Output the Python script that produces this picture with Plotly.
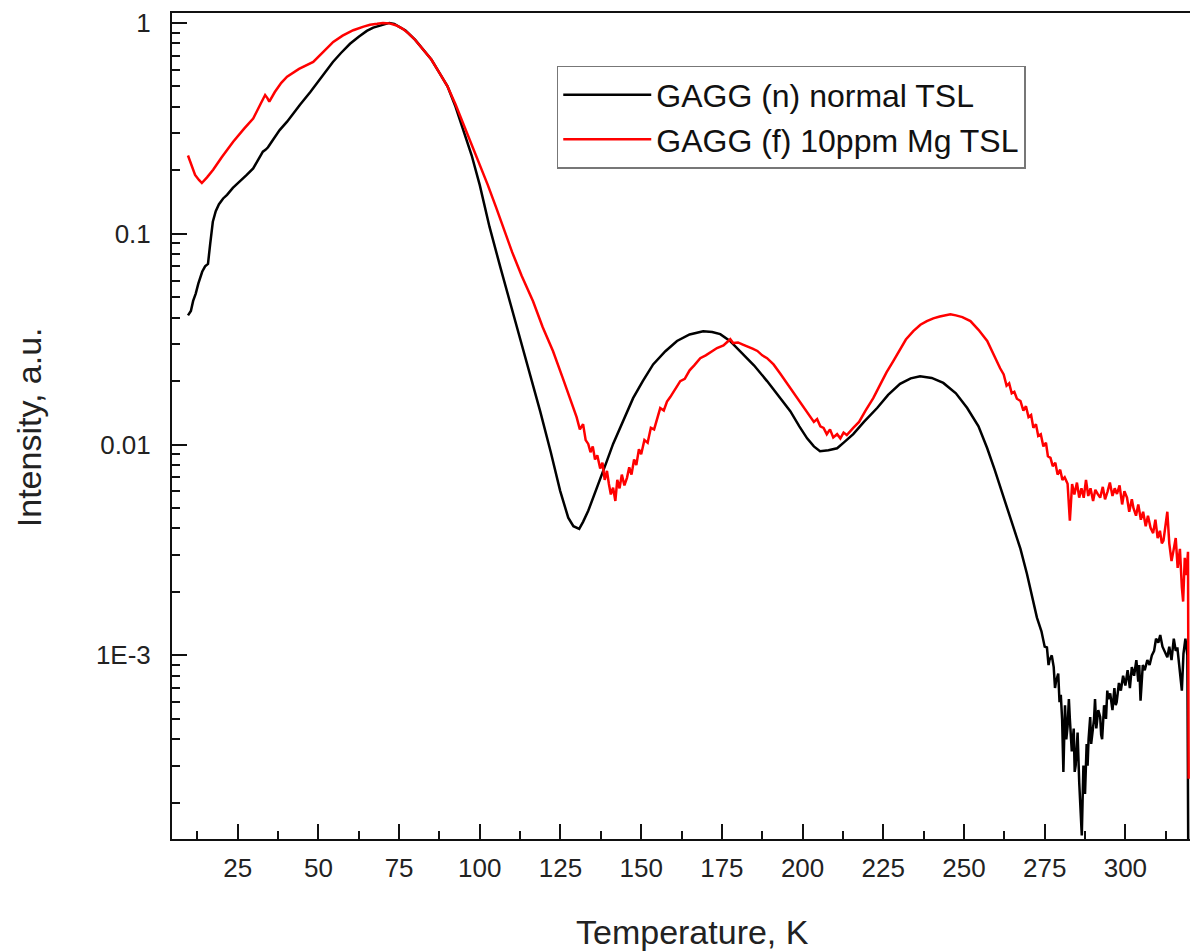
import plotly.graph_objects as go

# ---- data ----
black_T = [9.6, 10.5, 11.2, 12.0, 12.8, 13.3, 14.0, 14.9, 15.8, 16.5, 17.3, 18.2, 19.2, 20.5, 21.7,
           23.5, 25.7, 27.8, 29.8, 31.5, 32.8, 33.6, 34.4, 36.0, 38.0, 40.3, 42.3, 44.3, 47.5, 50.5,
           52.5, 54.5, 57.0, 59.8, 62.5, 65.0, 67.0, 69.0, 70.7, 72.0, 73.5, 75.0, 77.0, 80.0, 82.5,
           85.0, 87.5, 90.0, 92.5, 95.0, 97.5, 100.0, 103.0, 106.3, 109.0, 112.5, 115.5, 118.7, 122.0,
           124.9, 127.4, 129.0, 130.8, 132.0, 133.6, 135.5, 137.3, 139.3, 141.3, 144.5, 147.5, 150.5,
           153.7, 157.5, 161.1, 165.0, 169.2, 172.0, 174.5, 177.5, 180.7, 185.0, 189.0, 192.5, 196.2,
           199.0, 201.4, 203.5, 205.4, 208.0, 210.7, 213.0, 215.7, 219.0, 223.1, 226.5, 230.2, 233.5,
           236.4, 240.0, 243.6, 247.5, 251.0, 254.5, 257.2, 259.5, 261.2, 263.3, 265.3, 267.5, 269.5,
           271.0, 272.6, 274.0, 275.0, 275.7, 276.2, 276.5, 277.2, 277.8, 278.2, 278.5, 279.2, 279.6,
           280.0, 280.4, 280.8, 281.3, 281.7, 282.1, 282.5, 282.8, 283.4, 284.0, 284.3, 284.6, 285.2,
           285.7, 286.1, 286.5, 287.0, 287.5, 288.0, 288.3, 288.6, 289.1, 289.4, 289.7, 290.3, 290.6,
           291.0, 291.6, 292.2, 292.5, 292.8, 293.4, 294.0, 294.4, 294.7, 295.3, 296.0, 296.6, 297.0,
           297.3, 298.0, 298.6, 299.3, 300.0, 300.7, 301.4, 302.0, 302.7, 303.4, 304.0, 304.3, 304.7,
           305.4, 306.0, 306.8, 307.5, 308.2, 308.9, 309.5, 310.2, 310.8, 311.5, 312.2, 313.0, 313.6,
           314.3, 315.0, 315.6, 316.1, 316.8, 317.5, 318.0, 318.6, 319.2, 319.5]
black_I = [0.041, 0.043, 0.048, 0.052, 0.058, 0.061, 0.066, 0.070, 0.072, 0.09, 0.114, 0.128, 0.138, 0.147, 0.153,
           0.165, 0.177, 0.19, 0.204, 0.225, 0.245, 0.25, 0.257, 0.28, 0.31, 0.34, 0.375, 0.409, 0.47, 0.543,
           0.6, 0.653, 0.72, 0.796, 0.86, 0.916, 0.95, 0.968, 0.99, 1.0, 0.99, 0.96, 0.92, 0.83, 0.75,
           0.67, 0.58, 0.5, 0.4, 0.305, 0.235, 0.17, 0.108, 0.070, 0.0497, 0.032, 0.0217, 0.0144, 0.0092,
           0.00603, 0.0045, 0.0041, 0.00398, 0.0043, 0.00485, 0.0058, 0.00673, 0.0083, 0.01007, 0.013, 0.0166, 0.020,
           0.024, 0.0277, 0.031, 0.0333, 0.0345, 0.0342, 0.0334, 0.031, 0.0277, 0.0237, 0.020, 0.017, 0.0144,
           0.0122, 0.0107, 0.0098, 0.0093, 0.0094, 0.0096, 0.0103, 0.0112, 0.0128, 0.0149, 0.0172, 0.0194, 0.0206,
           0.0211, 0.0207, 0.0196, 0.0175, 0.0149, 0.0122, 0.0096, 0.0076, 0.0063, 0.0051, 0.00403, 0.0032, 0.00244,
           0.0019, 0.00151, 0.0013, 0.0011, 0.00109, 0.0009, 0.00095, 0.0010, 0.00088, 0.0007, 0.00075, 0.00082, 0.0006,
           0.00065, 0.0005, 0.00028, 0.00058, 0.0004, 0.00046, 0.00062, 0.0005, 0.00035, 0.00045, 0.00028, 0.0003, 0.00043,
           0.00025, 0.000185, 0.00014, 0.0003, 0.00022, 0.00038, 0.0003, 0.0004, 0.00051, 0.00038, 0.00042, 0.0005, 0.00062,
           0.00045, 0.00055, 0.00051, 0.00042, 0.0004, 0.00058, 0.0005, 0.00068, 0.00062, 0.00066, 0.00055, 0.0007, 0.00058,
           0.0006, 0.00074, 0.00068, 0.0008, 0.00072, 0.00085, 0.0007, 0.00088, 0.0008, 0.00095, 0.00075, 0.0009, 0.00061,
           0.0009, 0.00085, 0.00095, 0.0009, 0.001, 0.00105, 0.0012, 0.00115, 0.00125, 0.0011, 0.00105, 0.00098, 0.0011,
           0.00095, 0.0012, 0.00105, 0.00109, 0.00085, 0.00068, 0.00102, 0.0012, 0.001, 0.0001]

red_T = [9.6, 10.5, 11.8, 13.0, 13.9, 15.5, 17.4, 20.0, 23.6, 27.0, 29.8, 32.0, 33.5, 34.2, 34.8, 36.5,
         38.5, 40.3, 44.0, 48.4, 51.5, 54.6, 57.5, 60.8, 64.0, 66.0, 68.2, 70.0, 72.0, 74.0, 76.0, 78.0,
         80.0, 82.5, 85.0, 87.5, 90.0, 92.5, 95.0, 97.5, 100.0, 102.5, 105.0, 107.5, 110.0, 113.0, 116.5,
         119.5, 122.7, 125.8, 128.9, 130.0, 131.0, 132.0, 132.8, 133.6, 134.3, 135.0, 135.7, 136.4, 137.3,
         138.0, 138.7, 139.4, 140.0, 140.6, 141.3, 142.0, 142.6, 143.3, 144.0, 144.8, 145.6, 146.3, 147.0,
         147.8, 148.5, 149.3, 150.0, 151.0, 152.0, 153.0, 154.0, 155.0, 155.9, 157.0, 158.0, 159.0, 160.0,
         161.0, 162.1, 163.5, 165.0, 166.5, 168.3, 170.0, 171.5, 173.5, 175.5, 177.6, 178.5, 180.0, 181.5,
         182.9, 184.5, 186.0, 187.5, 189.0, 191.0, 193.0, 195.3, 197.5, 199.5, 201.4, 202.5, 203.5, 204.5,
         205.5, 206.5, 207.5, 208.5, 209.5, 210.7, 211.7, 212.7, 213.7, 215.7, 217.5, 219.5, 221.9, 224.0,
         226.0, 228.1, 230.0, 232.0, 234.3, 236.5, 238.5, 240.5, 242.5, 244.0, 245.8, 247.5, 249.5, 252.0,
         254.5, 257.2, 259.0, 261.2, 262.3, 263.2, 264.0, 264.8, 265.6, 266.4, 267.5, 268.4, 269.2, 270.0,
         270.8, 271.5, 272.3, 273.0, 273.8, 274.6, 275.4, 276.0, 276.8, 277.5, 278.3, 279.0, 279.8, 280.5,
         281.2, 282.1, 282.8, 283.5, 284.2, 285.0, 285.7, 286.4, 287.1, 287.8, 288.5, 289.2, 290.0, 290.7,
         291.5, 292.2, 293.0, 293.7, 294.5, 295.2, 296.0, 296.7, 297.4, 298.2, 299.0, 299.7, 300.5, 301.2,
         302.0, 302.5, 303.3, 304.0, 304.8, 305.5, 306.3, 307.0, 307.8, 308.6, 309.3, 310.0, 310.7, 311.3,
         311.8, 313.0, 313.6, 314.3, 314.9, 315.6, 316.2, 316.9, 317.5, 317.9, 318.4, 318.9, 319.4, 319.6]
red_I = [0.235, 0.215, 0.19, 0.18, 0.174, 0.185, 0.201, 0.23, 0.273, 0.315, 0.352, 0.41, 0.455, 0.44, 0.423, 0.47,
         0.52, 0.556, 0.605, 0.653, 0.73, 0.813, 0.87, 0.923, 0.96, 0.98, 0.99, 1.0, 0.995, 0.975, 0.94, 0.89,
         0.83, 0.75, 0.67, 0.58, 0.5, 0.41, 0.33, 0.265, 0.215, 0.17, 0.134, 0.105, 0.082, 0.063, 0.0478,
         0.036, 0.0277, 0.0205, 0.0149, 0.0135, 0.0118, 0.0125, 0.0105, 0.01007, 0.0092, 0.0098, 0.0085, 0.0089, 0.0077,
         0.0082, 0.0068, 0.0075, 0.0065, 0.0058, 0.00624, 0.0054, 0.0068, 0.0062, 0.0072, 0.0064, 0.00695, 0.0078, 0.0072,
         0.0085, 0.008, 0.0095, 0.009, 0.0105, 0.0102, 0.012, 0.0118, 0.0135, 0.0149, 0.0145, 0.016, 0.0168, 0.0178,
         0.0186, 0.020, 0.0205, 0.0225, 0.0238, 0.0257, 0.0265, 0.0275, 0.0287, 0.0295, 0.0316, 0.0303, 0.0305, 0.0298,
         0.0293, 0.0285, 0.0278, 0.0265, 0.0257, 0.024, 0.0218, 0.0194, 0.0175, 0.0158, 0.0144, 0.0135, 0.0128, 0.0132,
         0.0122, 0.012, 0.0112, 0.0118, 0.0108, 0.0112, 0.0107, 0.0114, 0.0111, 0.012, 0.0128, 0.0145, 0.0166, 0.0192,
         0.022, 0.0249, 0.028, 0.0315, 0.0345, 0.037, 0.0385, 0.0397, 0.0405, 0.041, 0.0415, 0.041, 0.0402, 0.0385,
         0.035, 0.031, 0.027, 0.023, 0.0215, 0.019, 0.0195, 0.0175, 0.0178, 0.0165, 0.0161, 0.0145, 0.0152, 0.0135,
         0.0138, 0.012, 0.0125, 0.011, 0.0112, 0.0098, 0.0102, 0.0088, 0.00865, 0.0079, 0.0082, 0.0072, 0.0076, 0.0068,
         0.007, 0.00652, 0.00435, 0.0065, 0.0058, 0.0066, 0.0056, 0.0062, 0.00559, 0.0068, 0.0057, 0.0062, 0.0054, 0.0061,
         0.0058, 0.0056, 0.0063, 0.0055, 0.006, 0.0066, 0.0057, 0.0062, 0.00583, 0.0064, 0.0052, 0.006, 0.0056, 0.0048,
         0.0055, 0.005, 0.0046, 0.0052, 0.0044, 0.0048, 0.0041, 0.0046, 0.00403, 0.0038, 0.0044, 0.0036, 0.0039, 0.0034,
         0.0035, 0.0048, 0.0034, 0.0028, 0.00314, 0.0036, 0.0026, 0.0032, 0.0021, 0.0018, 0.0029, 0.0024, 0.0031, 0.00026]

series_names = ["GAGG (n) normal TSL", "GAGG (f) 10ppm Mg TSL"]
x_ticks = [25, 50, 75, 100, 125, 150, 175, 200, 225, 250, 275, 300]
x_minor = [12.5, 37.5, 62.5, 87.5, 112.5, 137.5, 162.5, 187.5, 212.5, 237.5, 262.5, 287.5, 312.5]
y_ticks = [0.001, 0.01, 0.1, 1]
y_ticktext = ["1E-3", "0.01", "0.1", "1"]
y_minor = [m * 10 ** e for e in (-4, -3, -2, -1) for m in range(2, 10)]

FONT = "Liberation Sans, Arial, sans-serif"

fig = go.Figure()
fig.add_trace(go.Scatter(x=black_T, y=black_I, mode="lines", name=series_names[0],
                         line=dict(color="#000000", width=2.5)))
fig.add_trace(go.Scatter(x=red_T, y=red_I, mode="lines", name=series_names[1],
                         line=dict(color="#ff0000", width=2.5)))

fig.update_layout(
    width=1190, height=944,
    margin=dict(l=164, r=0, t=3, b=113),
    paper_bgcolor="white", plot_bgcolor="white",
    font=dict(family=FONT, color="#222222"),
    showlegend=True,
    legend=dict(x=0.375, y=0.936, xanchor="left", yanchor="top",
                bgcolor="white", bordercolor="#777777", borderwidth=1.5,
                font=dict(size=32, family=FONT, color="#111111"),
                itemwidth=88, tracegroupgap=0),
    xaxis=dict(range=[4.65, 322.5], showgrid=False, zeroline=False,
               showline=True, linecolor="#111111", linewidth=2, mirror=True,
               ticks="inside", ticklen=15, tickwidth=2, tickcolor="#111111",
               tickmode="array", tickvals=x_ticks,
               ticklabelstandoff=5, ticklabeloverflow="allow",
               tickfont=dict(size=26, family=FONT, color="#222222"),
               minor=dict(ticks="inside", ticklen=8, tickwidth=2, tickcolor="#111111",
                          tickmode="array", tickvals=x_minor, showgrid=False)),
    yaxis=dict(type="log", range=[-3.871, 0.047], showgrid=False, zeroline=False,
               showline=True, linecolor="#111111", linewidth=2, mirror=False,
               ticks="inside", ticklen=15, tickwidth=2, tickcolor="#111111",
               tickmode="array", tickvals=y_ticks, ticktext=y_ticktext,
               ticklabelstandoff=14, ticklabeloverflow="allow",
               tickfont=dict(size=26, family=FONT, color="#222222"),
               minor=dict(ticks="inside", ticklen=8, tickwidth=2, tickcolor="#111111",
                          tickmode="array", tickvals=y_minor, showgrid=False)),
)

fig.add_annotation(text="Temperature, K", xref="paper", yref="paper", x=0.507, y=-0.112,
                   xanchor="center", yanchor="middle", showarrow=False,
                   font=dict(size=34, family=FONT, color="#222222"))
fig.add_annotation(text="Intensity, a.u.", xref="paper", yref="paper", x=-0.14, y=0.499,
                   xanchor="center", yanchor="middle", showarrow=False, textangle=-90,
                   font=dict(size=34, family=FONT, color="#222222"))

fig.write_html("out.html")
